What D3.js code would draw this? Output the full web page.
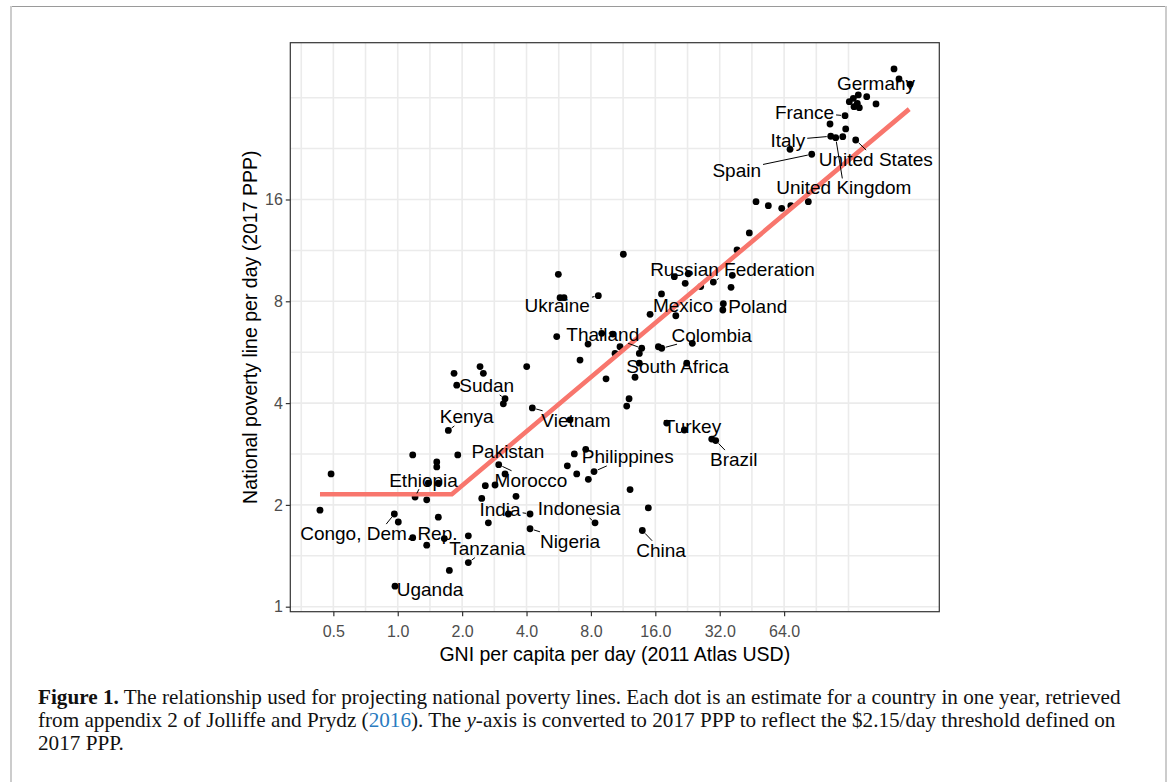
<!DOCTYPE html>
<html>
<head>
<meta charset="utf-8">
<script src="https://cdn.jsdelivr.net/npm/d3@7"></script>
<style>
  html, body { margin: 0; padding: 0; background: #fff; }
  svg { display: block; }
</style>
</head>
<body>
<svg id="fig" width="1170" height="782"></svg>
<script>
// GNI per capita per day (2011 Atlas USD), one entry per country-year estimate
const gniPerDay = [
  0.433, 0.488, 0.964, 1.006, 0.971, 1.175, 1.175, 1.205, 1.366, 1.366,
  1.390, 1.522, 1.522, 1.548, 1.548, 1.651, 1.724, 1.743, 1.833, 1.887,
  1.908, 2.138, 2.138, 2.425, 2.513, 2.470, 2.567, 2.652, 2.850, 2.965,
  3.116, 3.174, 3.174, 3.289, 3.572, 4.008, 4.154, 4.154, 4.258, 5.536,
  6.206, 6.389, 6.692, 6.866, 7.114, 7.565, 7.755, 7.780, 8.271, 8.362,
  8.986, 10.12, 9.413, 10.37, 10.94, 11.76, 12.06, 12.19, 12.86, 13.47,
  13.82, 13.47, 13.91, 14.84, 16.53, 17.14, 18.09, 21.86, 22.43, 23.83,
  29.36, 30.65, 5.633, 5.737, 5.989, 8.663, 11.34, 15.12, 17.10, 19.95,
  19.63, 22.82, 22.07, 26.08, 29.87, 36.65, 36.14, 33.27, 33.09, 38.55,
  44.00, 47.30, 54.00, 62.37, 68.78, 83.05, 68.2, 86.15, 104.9, 105.7,
  111.5, 120.3, 124.2, 123.3, 138.3, 129.1, 134.8, 142.2, 140.7, 135.8,
  143.8, 155.7, 172.1, 208.9, 220.4, 248.2
];

// National poverty line per day (2017 PPP), same order as gniPerDay
const povertyLine = [
  1.93, 2.47, 1.88, 1.78, 1.15, 2.81, 1.60, 2.11, 2.07, 1.52,
  2.32, 2.68, 2.59, 2.32, 1.84, 1.59, 3.32, 1.28, 4.90, 4.52,
  2.81, 1.62, 1.35, 5.13, 4.90, 2.09, 2.28, 1.77, 2.29, 2.63,
  3.98, 4.12, 2.47, 1.88, 2.12, 5.13, 1.88, 1.70, 3.87, 6.29,
  2.61, 3.57, 2.83, 2.47, 5.36, 2.92, 5.98, 2.38, 2.51, 1.77,
  6.43, 6.40, 4.72, 5.61, 5.87, 3.92, 4.12, 2.22, 4.77, 5.61,
  5.81, 5.25, 1.68, 1.96, 5.87, 5.81, 3.49, 3.33, 5.25, 6.01,
  3.13, 3.10, 9.61, 8.20, 8.20, 8.31, 11.02, 7.32, 8.41, 7.25,
  9.46, 9.65, 9.04, 8.84, 9.12, 9.55, 8.80, 7.87, 7.54, 11.35,
  12.74, 15.76, 15.34, 15.07, 15.33, 15.76, 22.52, 21.77, 26.75, 24.61,
  24.37, 24.54, 25.86, 28.31, 23.99, 31.15, 31.87, 32.60, 30.80, 30.10,
  29.90, 32.22, 30.66, 38.91, 36.35, 35.06
];

// Fitted projection: flat at the $2.15 floor, then rising with income
const fitGni  = [0.433, 1.79, 246];
const fitLine = [2.15, 2.15, 29.6];

// Labelled countries: text anchor and the dot each label points to
const labelNames = [
  "Germany", "France", "Italy", "United States", "Spain", "United Kingdom",
  "Russian Federation", "Mexico", "Poland", "Ukraine", "Thailand", "Colombia",
  "South Africa", "Sudan", "Kenya", "Vietnam", "Turkey", "Pakistan",
  "Philippines", "Brazil", "Ethiopia", "Morocco", "India", "Indonesia",
  "Congo, Dem. Rep.", "Nigeria", "Tanzania", "China", "Uganda"
];
const labelGni = [
  172.1, 79.7, 66.6, 171.7, 38.43, 121.7,
  36.73, 21.56, 48.17, 5.566, 9.09, 29.36,
  20.32, 2.606, 2.101, 6.815, 23.88, 3.271,
  11.89, 37.24, 1.320, 4.198, 3.007, 7.038,
  0.816, 6.389, 2.621, 17.01, 1.416
];
const labelLine = [
  35.30, 28.97, 23.99, 21.04, 19.56, 17.34,
  9.95, 7.80, 7.75, 7.80, 6.40, 6.36,
  5.125, 4.503, 3.646, 3.565, 3.423, 2.873,
  2.777, 2.728, 2.370, 2.370, 1.941, 1.949,
  1.648, 1.564, 1.488, 1.471, 1.126
];
const labelPointGni = [
  248.2, 123.3, 105.7, 138.3, 86.15, 111.5,
  29.87, 19.95, 33.09, 8.663, 13.82, 17.14,
  22.43, 3.174, 1.724, 4.258, 18.09, 2.965,
  8.271, 30.65, 1.205, 2.965, 4.154, 8.362,
  0.964, 4.154, 2.138, 13.91, 0.971
];
const labelPointLine = [
  35.06, 28.31, 24.61, 23.99, 21.77, 24.37,
  9.12, 7.25, 7.54, 8.31, 5.81, 5.81,
  5.25, 4.12, 3.32, 3.87, 3.49, 2.63,
  2.51, 3.10, 2.11, 2.63, 1.88, 1.77,
  1.88, 1.70, 1.35, 1.68, 1.15
];

// Axis breaks and grid lines
const xTicks = [0.5, 1, 2, 4, 8, 16, 32, 64];
const yTicks = [1, 2, 4, 8, 16];
const xGrid = [0.354, 0.5, 0.707, 1, 1.414, 2, 2.828, 4, 5.657, 8, 11.31, 16, 22.63, 32, 45.25, 64, 90.51, 128];
const yGrid = [1, 1.414, 2, 2.828, 4, 5.657, 8, 11.31, 16, 22.63, 32];

const xTitle = "GNI per capita per day (2011 Atlas USD)";
const yTitle = "National poverty line per day (2017 PPP)";

// ---------------------------------------------------------------------------
const svg = d3.select("#fig");
const sans = "'Liberation Sans', Arial, Helvetica, sans-serif";
const serif = "'Liberation Serif', 'Times New Roman', serif";

const panel = { left: 290.3, right: 939.3, top: 42.7, bottom: 611.7 };

const x = d3.scaleLog().base(2).domain([0.3146, 340.1]).range([panel.left, panel.right]);
const y = d3.scaleLog().base(2).domain([0.9665, 46.53]).range([panel.bottom, panel.top]);

// page frame
svg.append("rect").attr("x", 0).attr("y", 0).attr("width", 1170).attr("height", 782).attr("fill", "#fff");
svg.append("line").attr("x1", 11).attr("x2", 1166).attr("y1", 6.5).attr("y2", 6.5)
  .attr("stroke", "#9a9a9a").attr("stroke-width", 1.2);
svg.append("line").attr("x1", 11).attr("x2", 11).attr("y1", 6).attr("y2", 782)
  .attr("stroke", "#cccccc").attr("stroke-width", 2);
svg.append("line").attr("x1", 1166).attr("x2", 1166).attr("y1", 6).attr("y2", 782)
  .attr("stroke", "#cccccc").attr("stroke-width", 2);

// grid
const grid = svg.append("g");
grid.selectAll("line.gx").data(xGrid).join("line")
  .attr("x1", d => x(d)).attr("x2", d => x(d))
  .attr("y1", panel.top).attr("y2", panel.bottom)
  .attr("stroke", "#ebebeb").attr("stroke-width", 1.6);
grid.selectAll("line.gy").data(yGrid).join("line")
  .attr("class", "gy")
  .attr("x1", panel.left).attr("x2", panel.right)
  .attr("y1", d => y(d)).attr("y2", d => y(d))
  .attr("stroke", "#ebebeb").attr("stroke-width", 1.6);

// points
const pts = gniPerDay.map((g, i) => ({ g, p: povertyLine[i] }));
svg.append("g").selectAll("circle").data(pts).join("circle")
  .attr("cx", d => x(d.g)).attr("cy", d => y(d.p)).attr("r", 3.4)
  .attr("fill", "#000");

// fitted line
const fit = fitGni.map((g, i) => ({ g, p: fitLine[i] }));
svg.append("path").datum(fit)
  .attr("d", d3.line().x(d => x(d.g)).y(d => y(d.p)))
  .attr("fill", "none").attr("stroke", "#F8766D").attr("stroke-width", 4.6)
  .attr("stroke-linejoin", "round");

// labels with leader segments
const labelSize = 19;
const segG = svg.append("g");
const labG = svg.append("g");
labelNames.forEach((name, i) => {
  const lx = x(labelGni[i]), ly = y(labelLine[i]);
  const t = labG.append("text")
    .attr("x", lx).attr("y", ly).attr("dy", "0.35em")
    .attr("text-anchor", "middle")
    .style("font-family", sans).style("font-size", labelSize + "px")
    .attr("fill", "#000").text(name);
  const w = t.node().getComputedTextLength();
  const hw = w / 2 + 2, hh = labelSize * 0.38 + 2;
  const px = x(labelPointGni[i]), py = y(labelPointLine[i]);
  const dx = px - lx, dy = py - ly;
  if (Math.abs(dx) <= hw && Math.abs(dy) <= hh) return;
  const s = Math.min(dx !== 0 ? hw / Math.abs(dx) : Infinity, dy !== 0 ? hh / Math.abs(dy) : Infinity);
  const sx = lx + dx * s, sy = ly + dy * s;
  const L = Math.hypot(px - sx, py - sy);
  const pad = 4;
  if (L - pad < 2) return;
  const ex = px - (px - sx) / L * pad, ey = py - (py - sy) / L * pad;
  segG.append("line").attr("x1", sx).attr("y1", sy).attr("x2", ex).attr("y2", ey)
    .attr("stroke", "#000").attr("stroke-width", 1);
});

// panel border
svg.append("rect")
  .attr("x", panel.left).attr("y", panel.top)
  .attr("width", panel.right - panel.left).attr("height", panel.bottom - panel.top)
  .attr("fill", "none").attr("stroke", "#333").attr("stroke-width", 1.2);

// axes
const xAxis = svg.append("g").attr("transform", `translate(0,${panel.bottom})`)
  .call(d3.axisBottom(x).tickValues(xTicks).tickFormat(d3.format(".1f")).tickSize(4.5).tickPadding(9));
const yAxis = svg.append("g").attr("transform", `translate(${panel.left},0)`)
  .call(d3.axisLeft(y).tickValues(yTicks).tickFormat(d3.format("d")).tickSize(4.5).tickPadding(3));
[xAxis, yAxis].forEach(a => {
  a.select(".domain").remove();
  a.selectAll(".tick line").attr("stroke", "#333").attr("stroke-width", 1.2);
  a.selectAll(".tick text").attr("fill", "#4d4d4d")
    .style("font-family", sans).style("font-size", "16px");
});

// axis titles
svg.append("text")
  .attr("x", (panel.left + panel.right) / 2).attr("y", 661)
  .attr("text-anchor", "middle")
  .style("font-family", sans).style("font-size", "19.5px").attr("fill", "#000")
  .text(xTitle);
svg.append("text")
  .attr("transform", `translate(257,${(panel.top + panel.bottom) / 2}) rotate(-90)`)
  .attr("text-anchor", "middle")
  .style("font-family", sans).style("font-size", "19.5px").attr("fill", "#000")
  .text(yTitle);

// caption
const capLines = [];
const c1 = svg.append("text").attr("x", 38).attr("y", 704);
c1.append("tspan").attr("font-weight", "bold").text("Figure 1.");
c1.append("tspan").text(" The relationship used for projecting national poverty lines. Each dot is an estimate for a country in one year, retrieved");
const c2 = svg.append("text").attr("x", 38).attr("y", 727);
c2.append("tspan").text("from appendix 2 of Jolliffe and Prydz (");
c2.append("tspan").attr("fill", "#2a7bbf").text("2016");
c2.append("tspan").text("). The ");
c2.append("tspan").attr("font-style", "italic").text("y");
c2.append("tspan").text("-axis is converted to 2017 PPP to reflect the $2.15/day threshold defined on");
const c3 = svg.append("text").attr("x", 38).attr("y", 750);
c3.append("tspan").text("2017 PPP.");
[c1, c2, c3].forEach(c => c.style("font-family", serif).style("font-size", "20px").attr("fill", "#111"));
// size the caption so the first line fills the text block
const natural = c1.node().getComputedTextLength();
const capSize = 20 * 1083 / natural;
[c1, c2, c3].forEach(c => c.style("font-size", capSize.toFixed(2) + "px"));
</script>
</body>
</html>
